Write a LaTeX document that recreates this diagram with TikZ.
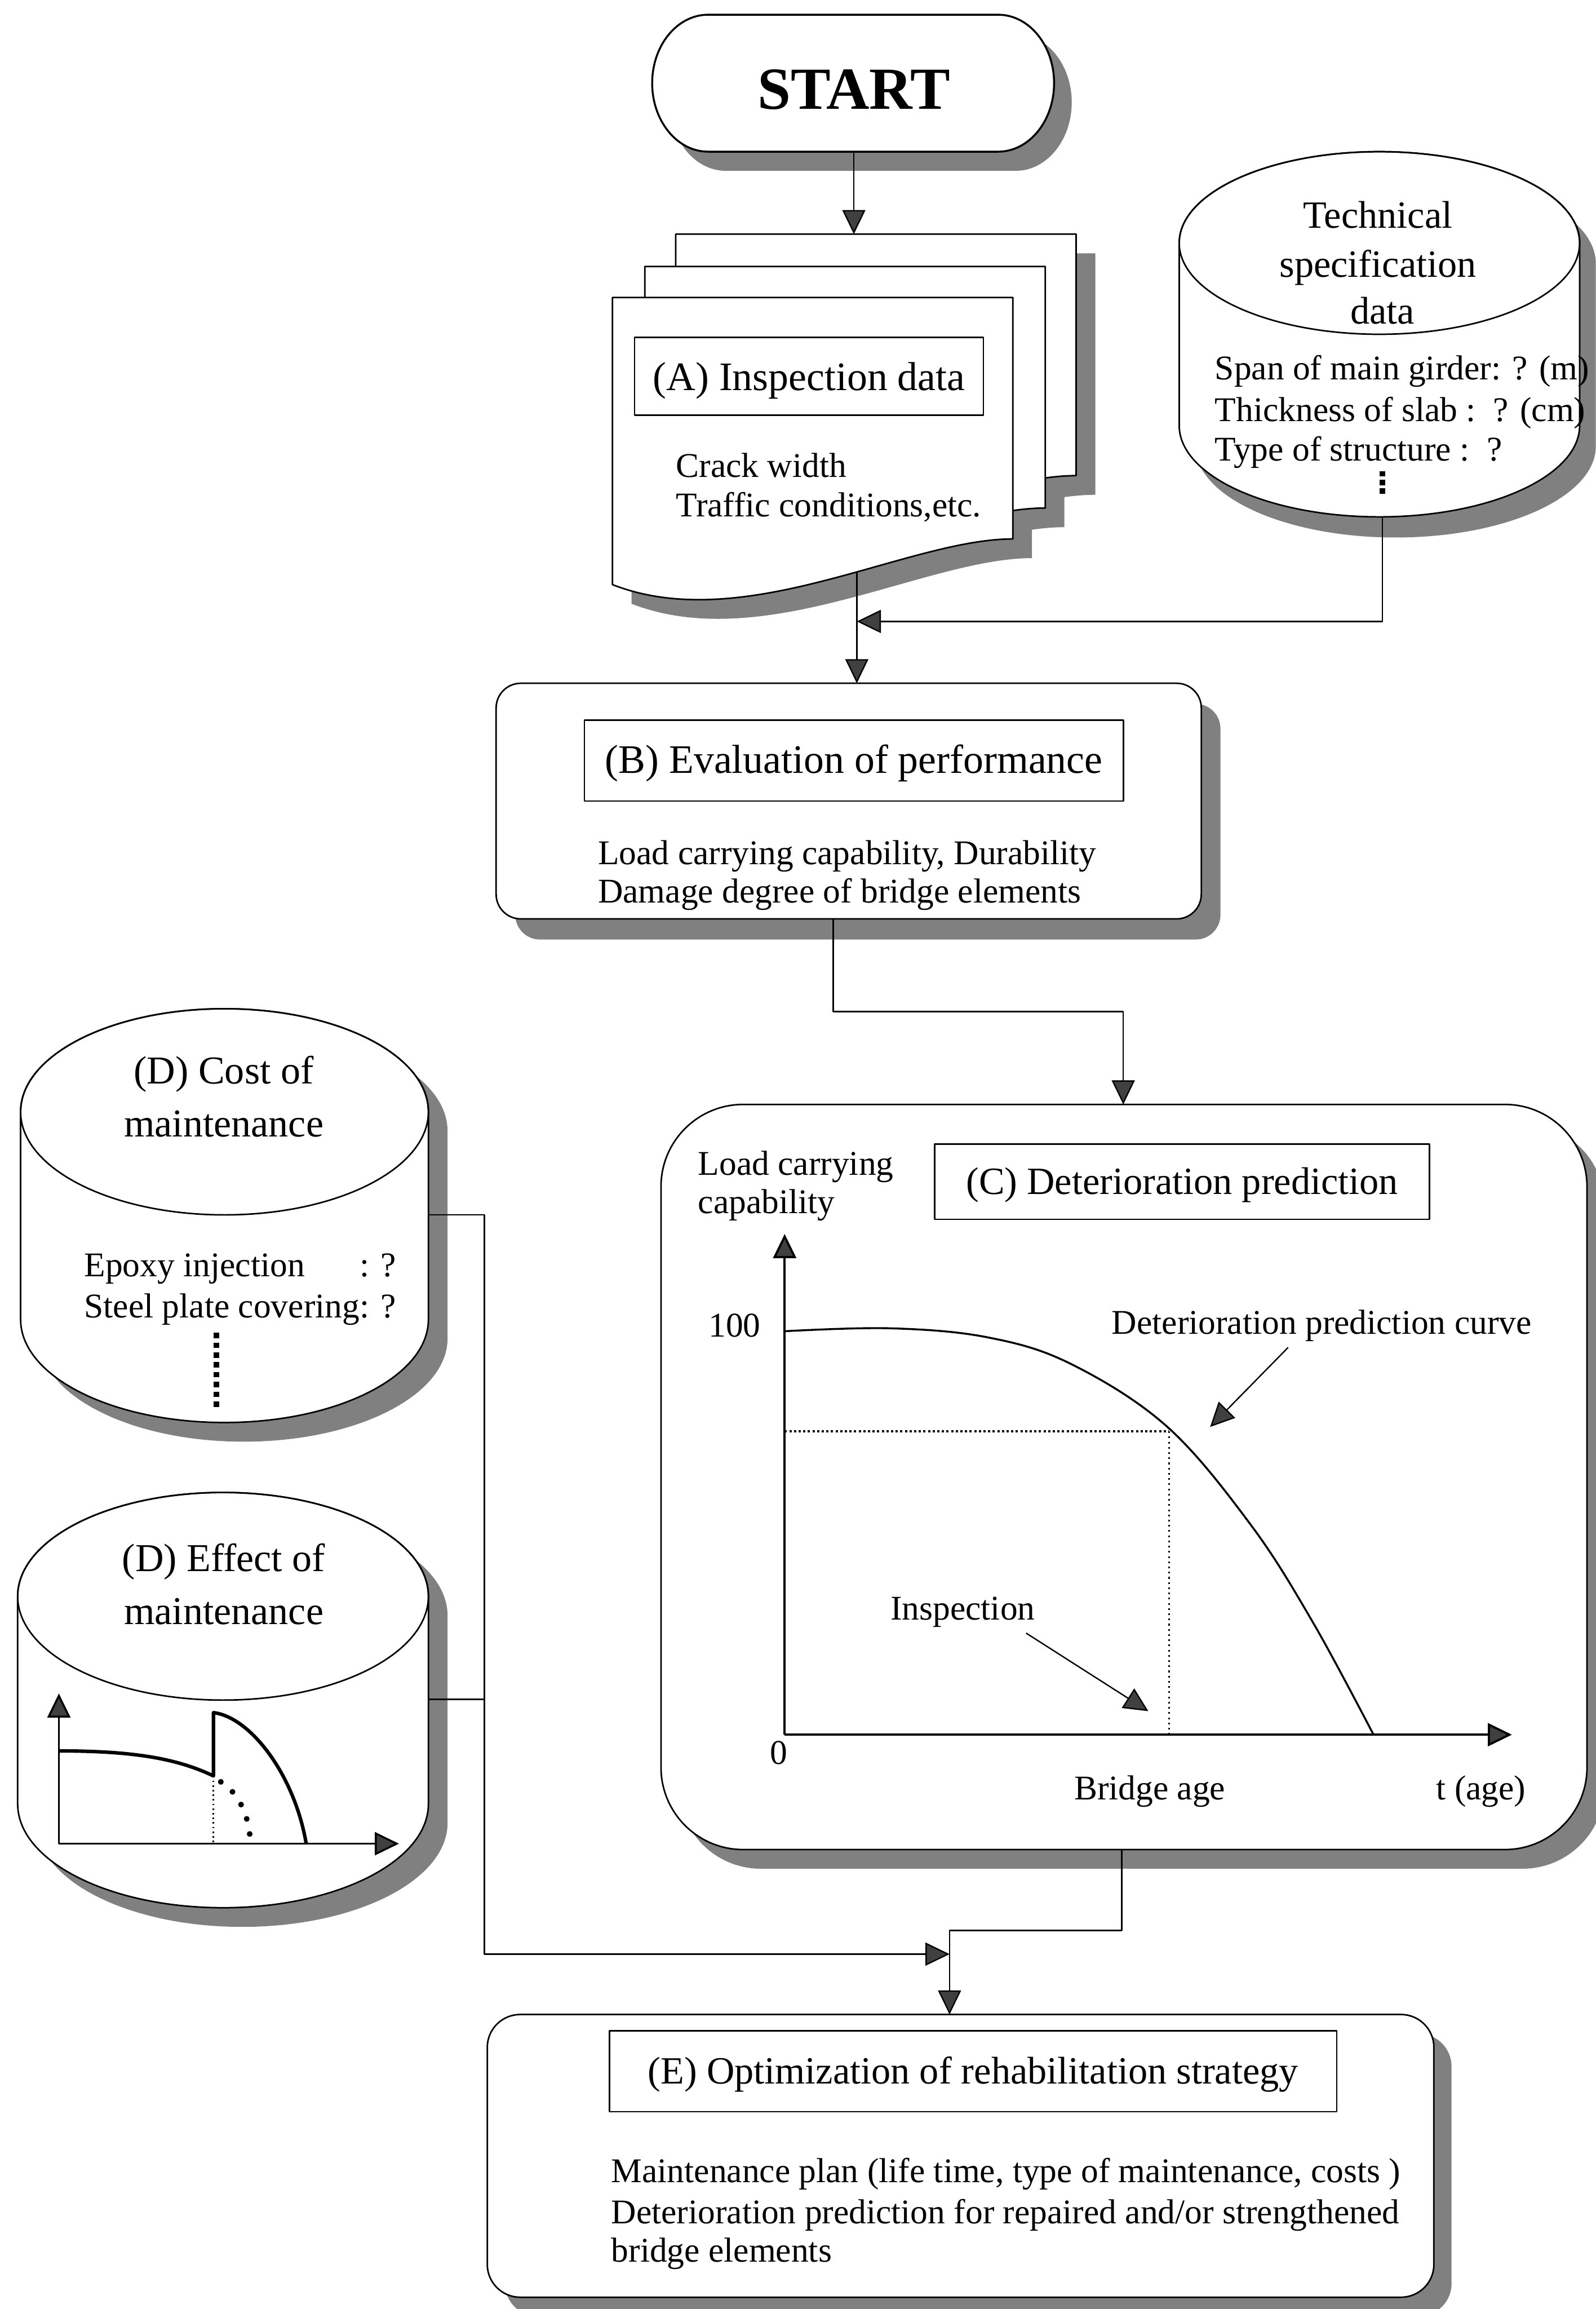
\documentclass[tikz,border=0pt]{standalone}
\usepackage{fontspec}
\setmainfont{Liberation Serif}
\usetikzlibrary{arrows.meta}
\newcommand\mycyl[6]{\path[#1] (#2-#5,#3) -- (#2-#5,#4) arc[start angle=180, end angle=0, x radius=#5, y radius=#6] -- (#2+#5,#3) arc[start angle=0, end angle=-180, x radius=#5, y radius=#6] -- cycle;}
\newcommand\mypage[2]{(#1,#2) -- (#1+272,#2) -- (#1+272,#2+164) .. controls (#1+200,#2+164) and (#1+90,#2+230) .. (#1,#2+195) -- cycle}
\begin{document}
\begin{tikzpicture}[x=0.026873cm, y=-0.026873cm, line join=round,
  shd/.style={fill=black!50, draw=none},
  outl/.style={draw=black, line width=0.8pt, fill=white},
  conn/.style={draw=black, line width=0.7pt},
  arr/.style={conn, -{Triangle[length=0.44cm, width=0.42cm, fill=black!75]}},
  body/.style={inner sep=0pt, font=\fontsize{18}{21.4}\selectfont},
  ttl/.style={inner sep=0pt, font=\fontsize{20.5}{24}\selectfont},
  tbox/.style={draw=black, line width=0.8pt}
]
\useasboundingbox (0,0) rectangle (1084,1568);
\fill[white] (0,0) rectangle (1084,1568);

% ---------- START ----------
\path[shd, shift={(12,13)}] (481,10) -- (678,10) arc[start angle=-90, end angle=90, x radius=38, y radius=46.5] -- (481,103) arc[start angle=90, end angle=270, x radius=38, y radius=46.5] -- cycle;
\path[outl, line width=1pt] (481,10) -- (678,10) arc[start angle=-90, end angle=90, x radius=38, y radius=46.5] -- (481,103) arc[start angle=90, end angle=270, x radius=38, y radius=46.5] -- cycle;
\node[inner sep=0pt, font=\fontsize{31}{36}\selectfont\bfseries, anchor=base] (start) at (580,74) {START};

% ---------- (A) multi-document ----------
\path[shd] \mypage{472}{172};
\path[shd] \mypage{451}{194};
\path[shd] \mypage{429}{215};
\path[outl] \mypage{459}{159};
\path[outl] \mypage{438}{181};
\path[outl] \mypage{416}{202};
\draw[tbox] (431,229) rectangle (668,282);
\node[ttl, font=\fontsize{21}{24}\selectfont, anchor=base] (atitle) at (549.5,265) {(A) Inspection data};
\node[body, anchor=base west] (a1) at (459,324) {Crack width};
\node[body, anchor=base west] (a2) at (459,351) {Traffic conditions,etc.};

% ---------- Technical specification cylinder ----------
\mycyl{shd, shift={(11,14)}}{937}{165}{289}{136}{62}
\mycyl{outl}{937}{165}{289}{136}{62}
\draw[line width=0.8pt] (937,165) ellipse [x radius=136, y radius=62];
\node[ttl, font=\fontsize{20}{24}\selectfont, anchor=base] (t1) at (936,155) {Technical};
\node[ttl, font=\fontsize{20}{24}\selectfont, anchor=base] (t2) at (936,188) {specification};
\node[ttl, font=\fontsize{20}{24}\selectfont, anchor=base] (t3) at (939,220) {data};
\node[body, anchor=base west] (t4) at (825,258) {Span of main girder: ? (m)};
\node[body, anchor=base west] (t5) at (825,286) {Thickness of slab :\ \ ? (cm)};
\node[body, anchor=base west] (t6) at (825,313) {Type of structure :\ \ ?};
\draw[line width=2.8pt, dash pattern=on 2.8pt off 1.6pt] (939,320) -- (939,337);

% ---------- (B) ----------
\fill[shd, rounded corners=0.45cm] (350,478) rectangle (829,638);
\draw[outl, rounded corners=0.45cm] (337,464) rectangle (816,624);
\draw[tbox] (397,489) rectangle (763,544);
\node[ttl, font=\fontsize{21}{24}\selectfont, anchor=base] (btitle) at (580,525) {(B) Evaluation of performance};
\node[body, anchor=base west] (b1) at (406,587) {Load carrying capability, Durability};
\node[body, anchor=base west] (b2) at (406,613) {Damage degree of bridge elements};

% ---------- (C) ----------
\fill[shd, rounded corners=1.5cm] (461,763) rectangle (1090,1269);
\draw[outl, rounded corners=1.5cm] (449,750) rectangle (1078,1256);
\draw[tbox] (635,777) rectangle (971,828);
\node[ttl, font=\fontsize{20}{24}\selectfont, anchor=base] (ctitle) at (803,811) {(C) Deterioration prediction};
\node[body, anchor=base west] (c1) at (474,798) {Load carrying};
\node[body, anchor=base west] (c2) at (474,824) {capability};
\coordinate (origin) at (533,1178);
\coordinate (ytip) at (533,838);
\coordinate (xtip) at (1027,1178);
\draw[arr, line width=1.1pt] (origin) -- (ytip);
\draw[arr, line width=1.1pt] (origin) -- (xtip);
\node[body, anchor=base] (c100) at (499,908) {100};
\node[body, anchor=base] (c0) at (529,1198) {0};
\draw[line width=1pt] plot[smooth, tension=0.6] coordinates {(533,904) (604,902) (670,908) (727,926) (793,969) (850,1036) (892,1102) (933,1178)};
\draw[line width=1.2pt, dash pattern=on 1.2pt off 1.2pt] (533,972) -- (794,972);
\draw[line width=0.9pt, dash pattern=on 0.9pt off 1.8pt] (794,972) -- (794,1178);
\node[body, anchor=base west] (dpc) at (755,906) {Deterioration prediction curve};
\coordinate (dpcA) at (875,915);
\coordinate (dpcB) at (822,969);
\draw[arr] (dpcA) -- (dpcB);
\node[body, anchor=base] (insp) at (654,1100) {Inspection};
\coordinate (inspA) at (697,1109);
\coordinate (inspB) at (780,1162);
\draw[arr] (inspA) -- (inspB);
\node[body, anchor=base] (bage) at (781,1222) {Bridge age};
\node[body, anchor=base] (tage) at (1006,1222) {t (age)};

% ---------- (D) Cost of maintenance ----------
\mycyl{shd, shift={(13,13)}}{152.5}{755}{896}{138.5}{70}
\mycyl{outl}{152.5}{755}{896}{138.5}{70}
\draw[line width=0.8pt] (152.5,755) ellipse [x radius=138.5, y radius=70];
\node[ttl, anchor=base] (d1) at (152,736) {(D) Cost of};
\node[ttl, anchor=base] (d2) at (152,772) {maintenance};
\node[body, anchor=north west] (dcost) at (57,847) {\def\arraystretch{1}\begin{tabular}{@{}l@{}l@{}}Epoxy injection & : ?\\ Steel plate covering & : ?\end{tabular}};
\draw[line width=2.8pt, dash pattern=on 2.8pt off 2.3pt] (147,905) -- (147,958);

% ---------- (D) Effect of maintenance ----------
\mycyl{shd, shift={(13,13)}}{151.5}{1084}{1225}{139.5}{70.5}
\mycyl{outl}{151.5}{1084}{1225}{139.5}{70.5}
\draw[line width=0.8pt] (151.5,1084) ellipse [x radius=139.5, y radius=70.5];
\node[ttl, anchor=base] (e1) at (152,1067) {(D) Effect of};
\node[ttl, anchor=base] (e2) at (152,1103) {maintenance};
\coordinate (morig) at (40,1252);
\coordinate (mytip) at (40,1150);
\coordinate (mxtip) at (271,1252);
\draw[arr, line width=1pt] (morig) -- (mytip);
\draw[arr, line width=1pt] (morig) -- (mxtip);
\draw[line width=1.8pt] (40,1189) .. controls (90,1189) and (120,1194) .. (145,1206) -- (145,1163) .. controls (170,1166) and (200,1205) .. (208,1252);
\draw[line width=0.8pt, dash pattern=on 0.8pt off 1.6pt] (145,1206) -- (145,1252);
\draw[line width=3pt, line cap=round, dash pattern=on 0pt off 8pt] (150,1210) .. controls (160,1216) and (169,1230) .. (170,1250);

% ---------- (E) ----------
\fill[shd, rounded corners=0.6cm] (343,1381) rectangle (986,1573);
\draw[outl, rounded corners=0.6cm] (331,1368) rectangle (974,1560);
\draw[tbox] (414,1379) rectangle (908,1434);
\node[ttl, font=\fontsize{20}{24}\selectfont, anchor=base] (etitle) at (661,1415) {(E) Optimization of rehabilitation strategy};
\node[body, anchor=base west] (e3) at (415,1482) {Maintenance plan (life time, type of maintenance, costs )};
\node[body, anchor=base west] (e4) at (415,1510) {Deterioration prediction for repaired and/or strengthened};
\node[body, anchor=base west] (e5) at (415,1536) {bridge elements};

% ---------- connectors ----------
\coordinate (startS) at (580,103);
\coordinate (docN) at (580,159);
\draw[arr] (startS) -- (docN);
\coordinate (Abot) at (582,388);
\coordinate (Btop) at (582,464);
\draw[arr] (Abot) -- (Btop);
\coordinate (Tbot) at (939,351);
\coordinate (Ajoin) at (582,422);
\draw[arr] (Tbot) |- (Ajoin);
\coordinate (Bbot) at (566,624);
\coordinate (Ctop) at (763,750);
\draw[arr] (Bbot) -- (566,687) -| (Ctop);
\coordinate (Cbot) at (762,1256);
\coordinate (Etop) at (645,1368);
\draw[arr] (Cbot) -- (762,1311) -| (Etop);
\coordinate (Dcost) at (291,825);
\coordinate (Deff) at (291,1154);
\coordinate (Dbus) at (329,1154);
\coordinate (Dcorner) at (329,1327);
\coordinate (Ejoin) at (645,1327);
\draw[arr] (Dcost) -| (Dcorner) -- (Ejoin);
\draw[conn] (Deff) -- (Dbus);
\end{tikzpicture}
\end{document}
